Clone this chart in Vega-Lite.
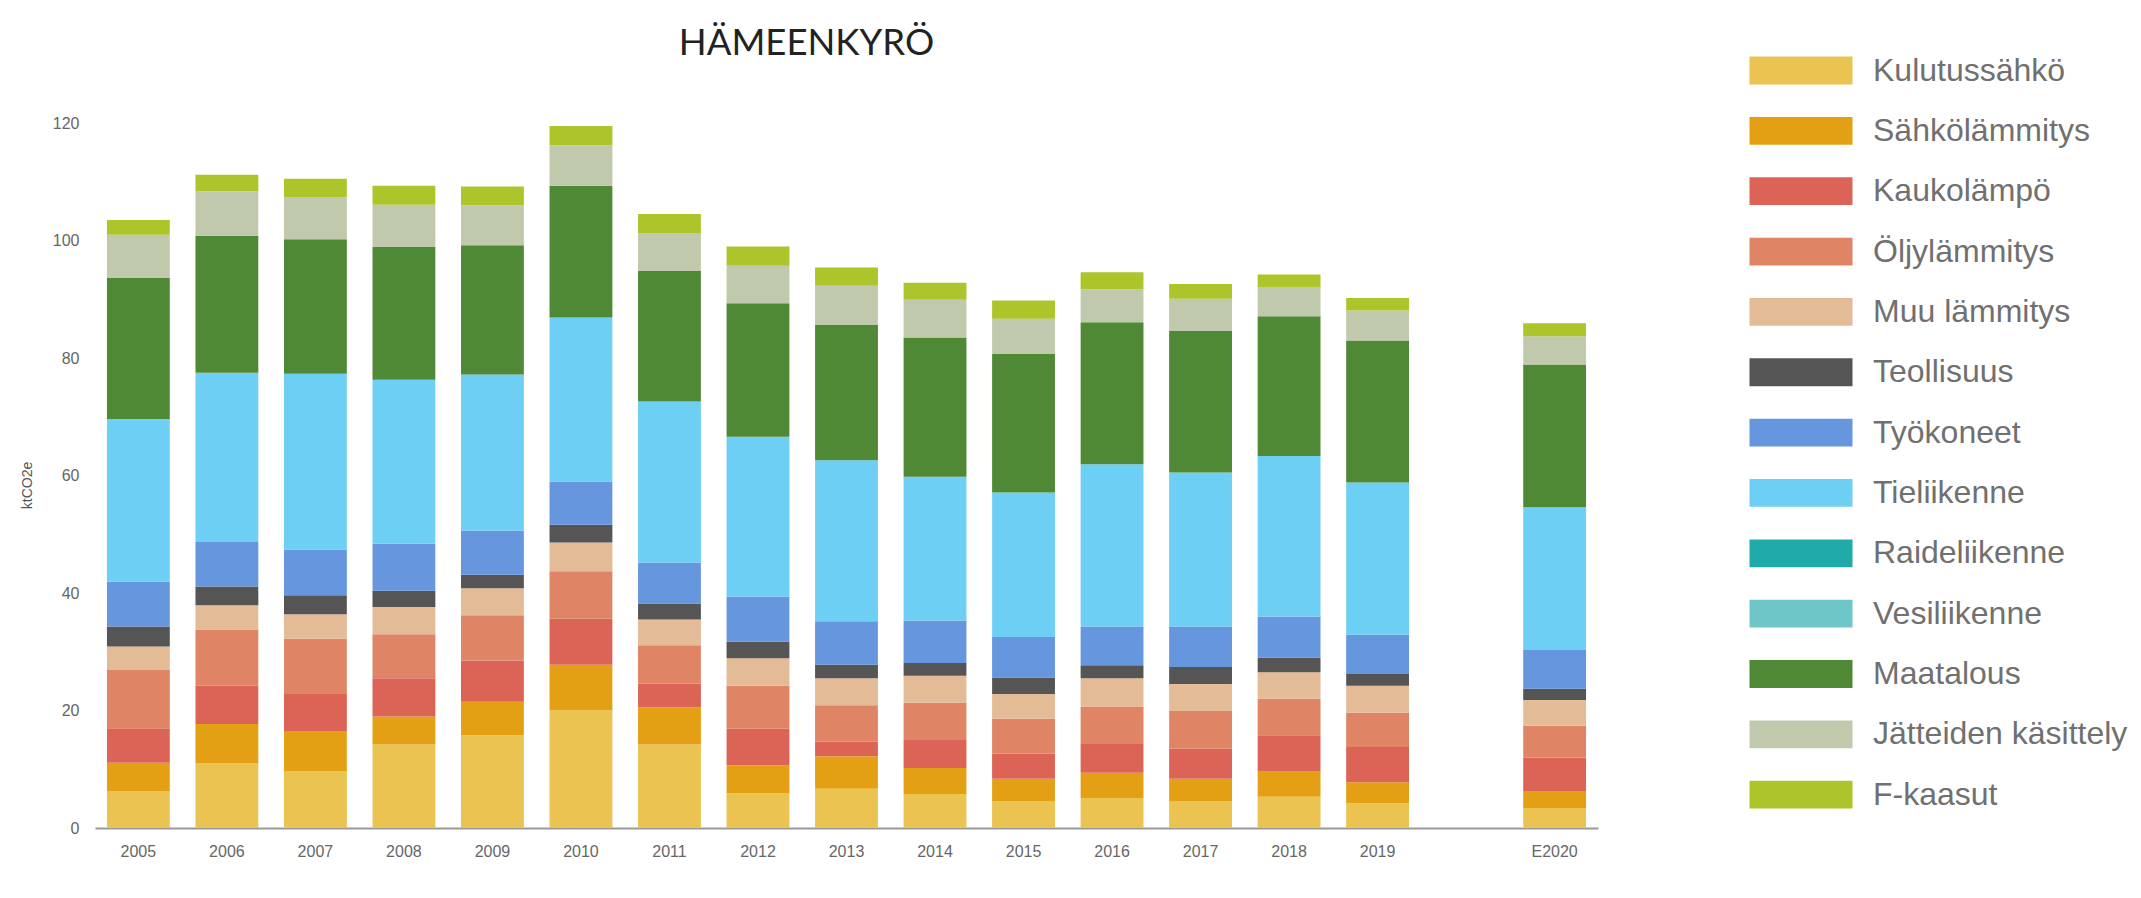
{
  "$schema": "https://vega.github.io/schema/vega-lite/v6.json",
  "autosize": "none",
  "width": 1503,
  "height": 705,
  "padding": {"left": 95, "top": 123, "right": 543, "bottom": 70},
  "background": "#ffffff",
  "title": {
    "text": "HÄMEENKYRÖ",
    "font": "Lato",
    "fontSize": 36.5,
    "fontWeight": "normal",
    "color": "#222222",
    "anchor": "middle",
    "frame": "group",
    "dx": -40,
    "offset": -46.5,
    "baseline": "alphabetic"
  },
  "data": {
    "values": [
      {"vuosi": "2005", "Kulutussähkö": 6.3, "Sähkölämmitys": 4.8, "Kaukolämpö": 5.9, "Öljylämmitys": 9.9, "Muu lämmitys": 4.0, "Teollisuus": 3.4, "Työkoneet": 7.6, "Tieliikenne": 27.7, "Raideliikenne": 0, "Vesiliikenne": 0, "Maatalous": 24.0, "Jätteiden käsittely": 7.4, "F-kaasut": 2.5},
      {"vuosi": "2006", "Kulutussähkö": 11.0, "Sähkölämmitys": 6.7, "Kaukolämpö": 6.5, "Öljylämmitys": 9.6, "Muu lämmitys": 4.1, "Teollisuus": 3.2, "Työkoneet": 7.6, "Tieliikenne": 28.8, "Raideliikenne": 0, "Vesiliikenne": 0, "Maatalous": 23.3, "Jätteiden käsittely": 7.6, "F-kaasut": 2.8},
      {"vuosi": "2007", "Kulutussähkö": 9.7, "Sähkölämmitys": 6.8, "Kaukolämpö": 6.3, "Öljylämmitys": 9.4, "Muu lämmitys": 4.2, "Teollisuus": 3.2, "Työkoneet": 7.8, "Tieliikenne": 29.9, "Raideliikenne": 0, "Vesiliikenne": 0, "Maatalous": 22.9, "Jätteiden käsittely": 7.1, "F-kaasut": 3.2},
      {"vuosi": "2008", "Kulutussähkö": 14.2, "Sähkölämmitys": 4.8, "Kaukolämpö": 6.5, "Öljylämmitys": 7.5, "Muu lämmitys": 4.6, "Teollisuus": 2.8, "Työkoneet": 8.0, "Tieliikenne": 27.9, "Raideliikenne": 0, "Vesiliikenne": 0, "Maatalous": 22.6, "Jätteiden käsittely": 7.2, "F-kaasut": 3.2},
      {"vuosi": "2009", "Kulutussähkö": 15.8, "Sähkölämmitys": 5.7, "Kaukolämpö": 7.0, "Öljylämmitys": 7.7, "Muu lämmitys": 4.6, "Teollisuus": 2.3, "Työkoneet": 7.5, "Tieliikenne": 26.6, "Raideliikenne": 0, "Vesiliikenne": 0, "Maatalous": 22.0, "Jätteiden käsittely": 6.8, "F-kaasut": 3.2},
      {"vuosi": "2010", "Kulutussähkö": 20.0, "Sähkölämmitys": 7.8, "Kaukolämpö": 7.8, "Öljylämmitys": 8.1, "Muu lämmitys": 4.9, "Teollisuus": 3.0, "Työkoneet": 7.4, "Tieliikenne": 27.9, "Raideliikenne": 0, "Vesiliikenne": 0, "Maatalous": 22.4, "Jätteiden käsittely": 6.9, "F-kaasut": 3.3},
      {"vuosi": "2011", "Kulutussähkö": 14.2, "Sähkölämmitys": 6.3, "Kaukolämpö": 4.1, "Öljylämmitys": 6.5, "Muu lämmitys": 4.4, "Teollisuus": 2.7, "Työkoneet": 7.0, "Tieliikenne": 27.4, "Raideliikenne": 0, "Vesiliikenne": 0, "Maatalous": 22.2, "Jätteiden käsittely": 6.4, "F-kaasut": 3.3},
      {"vuosi": "2012", "Kulutussähkö": 5.9, "Sähkölämmitys": 4.8, "Kaukolämpö": 6.2, "Öljylämmitys": 7.3, "Muu lämmitys": 4.7, "Teollisuus": 2.8, "Työkoneet": 7.7, "Tieliikenne": 27.2, "Raideliikenne": 0, "Vesiliikenne": 0, "Maatalous": 22.7, "Jätteiden käsittely": 6.4, "F-kaasut": 3.3},
      {"vuosi": "2013", "Kulutussähkö": 6.7, "Sähkölämmitys": 5.5, "Kaukolämpö": 2.5, "Öljylämmitys": 6.2, "Muu lämmitys": 4.6, "Teollisuus": 2.3, "Työkoneet": 7.4, "Tieliikenne": 27.4, "Raideliikenne": 0, "Vesiliikenne": 0, "Maatalous": 23.0, "Jätteiden käsittely": 6.7, "F-kaasut": 3.1},
      {"vuosi": "2014", "Kulutussähkö": 5.8, "Sähkölämmitys": 4.4, "Kaukolämpö": 4.8, "Öljylämmitys": 6.3, "Muu lämmitys": 4.6, "Teollisuus": 2.2, "Työkoneet": 7.2, "Tieliikenne": 24.5, "Raideliikenne": 0, "Vesiliikenne": 0, "Maatalous": 23.7, "Jätteiden käsittely": 6.4, "F-kaasut": 2.9},
      {"vuosi": "2015", "Kulutussähkö": 4.6, "Sähkölämmitys": 3.8, "Kaukolämpö": 4.3, "Öljylämmitys": 5.9, "Muu lämmitys": 4.2, "Teollisuus": 2.8, "Työkoneet": 6.9, "Tieliikenne": 24.6, "Raideliikenne": 0, "Vesiliikenne": 0, "Maatalous": 23.6, "Jätteiden käsittely": 6.0, "F-kaasut": 3.1},
      {"vuosi": "2016", "Kulutussähkö": 5.1, "Sähkölämmitys": 4.3, "Kaukolämpö": 4.9, "Öljylämmitys": 6.4, "Muu lämmitys": 4.8, "Teollisuus": 2.2, "Työkoneet": 6.6, "Tieliikenne": 27.6, "Raideliikenne": 0, "Vesiliikenne": 0, "Maatalous": 24.2, "Jätteiden käsittely": 5.6, "F-kaasut": 2.9},
      {"vuosi": "2017", "Kulutussähkö": 4.6, "Sähkölämmitys": 3.8, "Kaukolämpö": 5.1, "Öljylämmitys": 6.4, "Muu lämmitys": 4.6, "Teollisuus": 2.9, "Työkoneet": 6.9, "Tieliikenne": 26.2, "Raideliikenne": 0, "Vesiliikenne": 0, "Maatalous": 24.1, "Jätteiden käsittely": 5.5, "F-kaasut": 2.5},
      {"vuosi": "2018", "Kulutussähkö": 5.3, "Sähkölämmitys": 4.4, "Kaukolämpö": 6.1, "Öljylämmitys": 6.2, "Muu lämmitys": 4.5, "Teollisuus": 2.5, "Työkoneet": 7.0, "Tieliikenne": 27.3, "Raideliikenne": 0, "Vesiliikenne": 0, "Maatalous": 23.8, "Jätteiden käsittely": 5.0, "F-kaasut": 2.1},
      {"vuosi": "2019", "Kulutussähkö": 4.2, "Sähkölämmitys": 3.6, "Kaukolämpö": 6.0, "Öljylämmitys": 5.8, "Muu lämmitys": 4.6, "Teollisuus": 2.0, "Työkoneet": 6.7, "Tieliikenne": 25.9, "Raideliikenne": 0, "Vesiliikenne": 0, "Maatalous": 24.2, "Jätteiden käsittely": 5.1, "F-kaasut": 2.1},
      {"vuosi": "E2020", "Kulutussähkö": 3.4, "Sähkölämmitys": 2.9, "Kaukolämpö": 5.7, "Öljylämmitys": 5.4, "Muu lämmitys": 4.4, "Teollisuus": 1.9, "Työkoneet": 6.6, "Tieliikenne": 24.3, "Raideliikenne": 0, "Vesiliikenne": 0, "Maatalous": 24.3, "Jätteiden käsittely": 4.8, "F-kaasut": 2.2}
    ]
  },
  "transform": [
    {"fold": ["Kulutussähkö", "Sähkölämmitys", "Kaukolämpö", "Öljylämmitys", "Muu lämmitys", "Teollisuus", "Työkoneet", "Tieliikenne", "Raideliikenne", "Vesiliikenne", "Maatalous", "Jätteiden käsittely", "F-kaasut"], "as": ["sektori", "kt"]},
    {"window": [{"op": "row_number", "as": "jarjestys"}], "groupby": ["vuosi"]}
  ],
  "mark": {"type": "bar"},
  "encoding": {
    "x": {
      "field": "vuosi",
      "type": "nominal",
      "scale": {
        "domain": ["2005", "2006", "2007", "2008", "2009", "2010", "2011", "2012", "2013", "2014", "2015", "2016", "2017", "2018", "2019", " ", "E2020"],
        "paddingInner": 0.29,
        "paddingOuter": 0.135
      },
      "axis": {
        "title": null,
        "labelAngle": 0,
        "labelFont": "Liberation Sans",
        "labelFontSize": 16,
        "labelColor": "#666666",
        "labelPadding": 15,
        "ticks": false,
        "tickSize": 0,
        "domainColor": "#999999",
        "domainWidth": 2
      }
    },
    "y": {
      "field": "kt",
      "type": "quantitative",
      "stack": "zero",
      "scale": {"domain": [0, 120]},
      "axis": {
        "title": "ktCO2e",
        "titleFont": "Liberation Sans",
        "titleFontSize": 14,
        "titleFontWeight": "normal",
        "titleColor": "#555555",
        "titleX": -61,
        "titleY": 362,
        "values": [0, 20, 40, 60, 80, 100, 120],
        "labelFont": "Liberation Sans",
        "labelFontSize": 16,
        "labelColor": "#666666",
        "labelPadding": 16,
        "ticks": false,
        "tickSize": 0,
        "domain": false,
        "grid": false
      }
    },
    "order": {"field": "jarjestys", "type": "quantitative", "sort": "ascending"},
    "color": {
      "field": "sektori",
      "type": "nominal",
      "sort": ["Kulutussähkö", "Sähkölämmitys", "Kaukolämpö", "Öljylämmitys", "Muu lämmitys", "Teollisuus", "Työkoneet", "Tieliikenne", "Raideliikenne", "Vesiliikenne", "Maatalous", "Jätteiden käsittely", "F-kaasut"],
      "scale": {
        "domain": ["Kulutussähkö", "Sähkölämmitys", "Kaukolämpö", "Öljylämmitys", "Muu lämmitys", "Teollisuus", "Työkoneet", "Tieliikenne", "Raideliikenne", "Vesiliikenne", "Maatalous", "Jätteiden käsittely", "F-kaasut"],
        "range": ["#EAC350", "#E3A015", "#DB6456", "#DF8465", "#E3BB96", "#555555", "#6596DE", "#6ECFF5", "#21ABA8", "#6EC6C8", "#508935", "#C0C9AC", "#ADC42B"]
      },
      "legend": {
        "title": null,
        "orient": "none",
        "legendX": 1680,
        "legendY": -78.5,
        "symbolType": "M-2,-0.54H2V0.54H-2Z",
        "symbolSize": 2652,
        "symbolStrokeWidth": 0,
        "symbolOpacity": 1,
        "labelFont": "Liberation Sans",
        "labelFontSize": 32,
        "labelColor": "#707070",
        "labelLimit": 500,
        "labelOffset": 46,
        "rowPadding": 18.35
      }
    }
  },
  "config": {
    "view": {"stroke": null}
  }
}
